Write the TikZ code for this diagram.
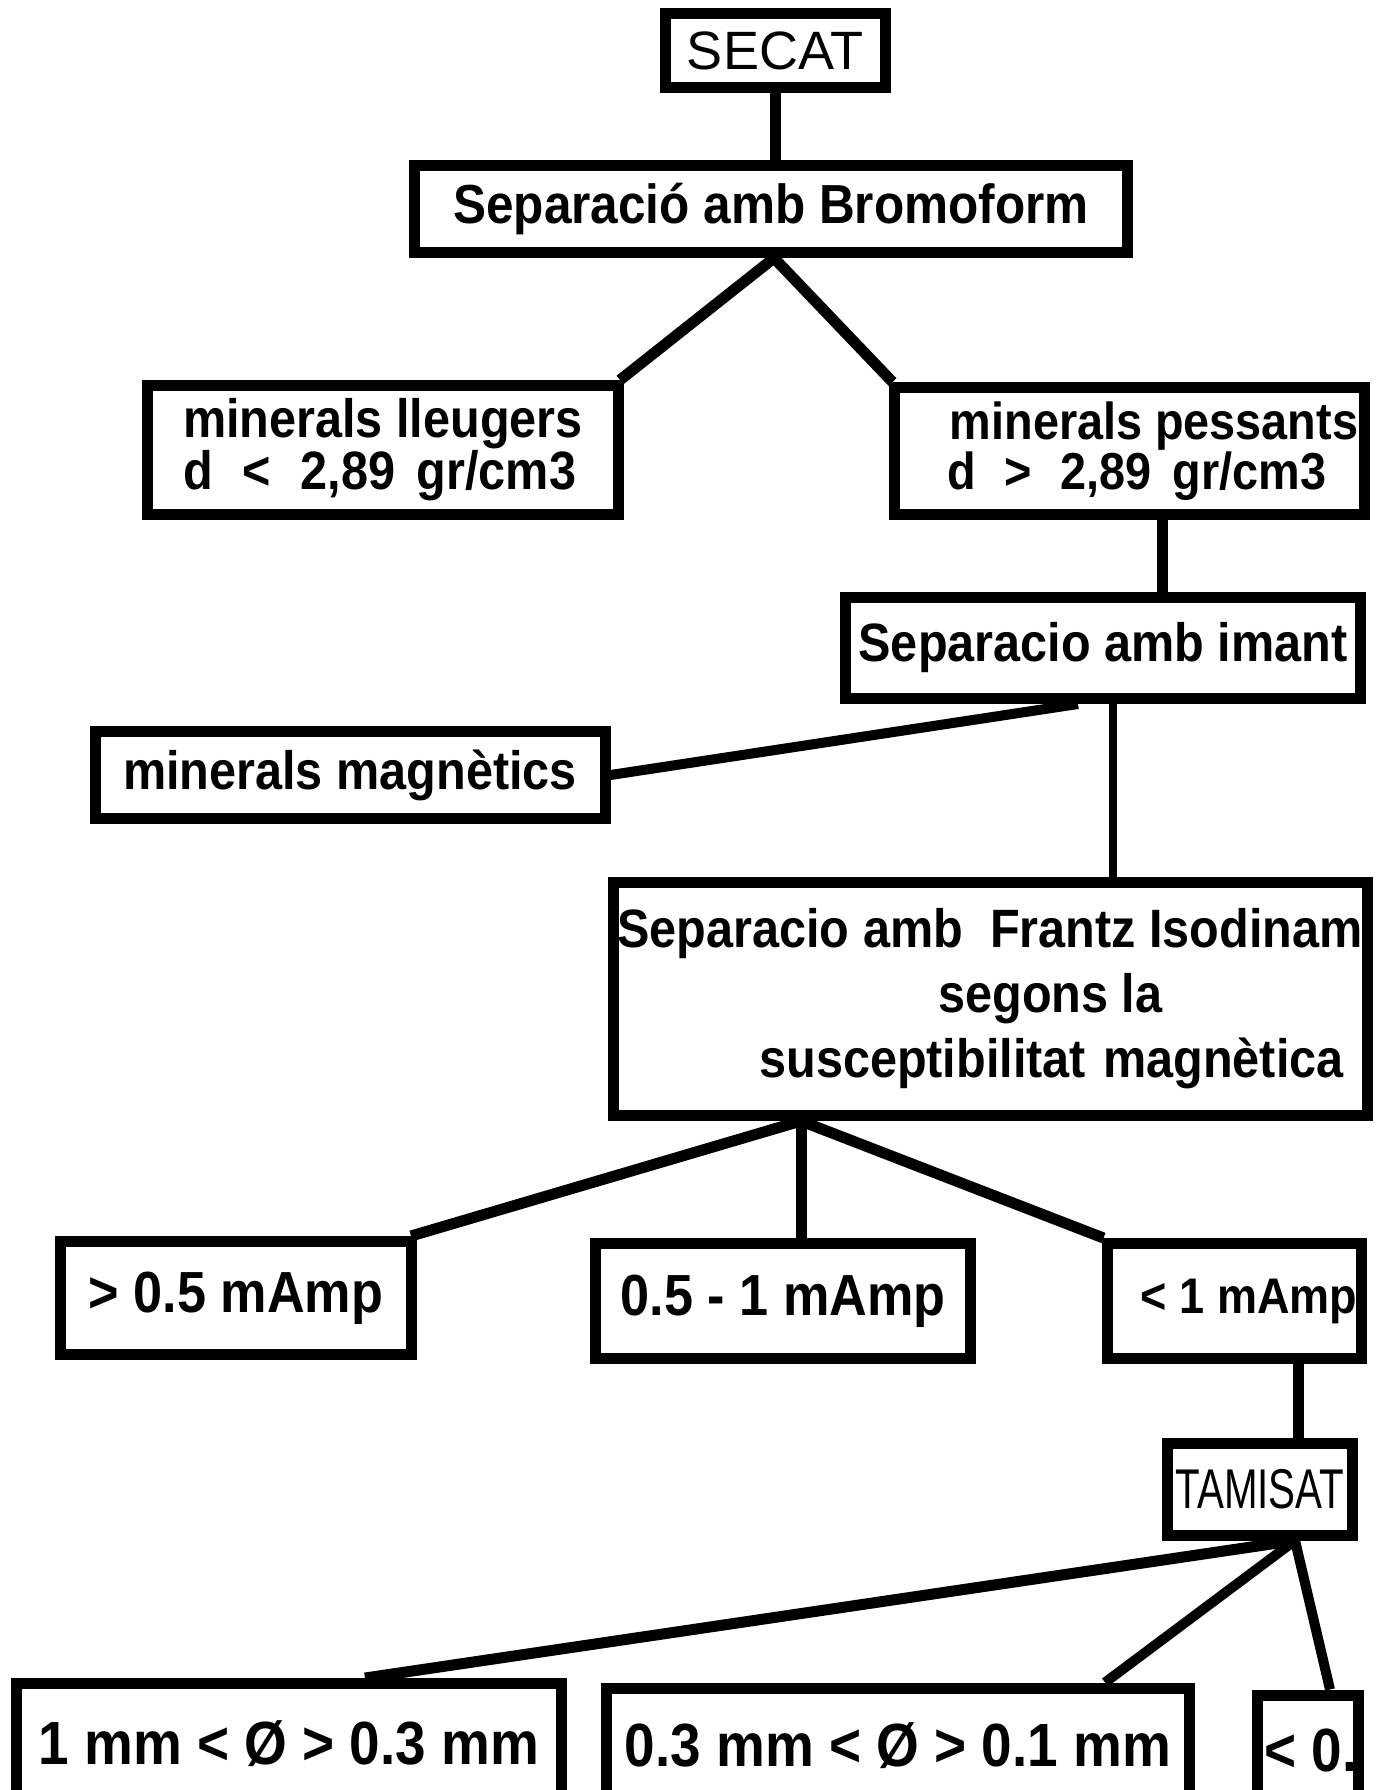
\documentclass[tikz,border=0pt]{standalone}
\usepackage{fontspec}
\newfontfamily\bfnt{Liberation Sans}[FakeStretch=0.9]
\newfontfamily\rgnt{Liberation Sans}
\newfontfamily\cdnt{Liberation Sans}[FakeStretch=0.72]
\begin{document}
\begin{tikzpicture}[x=1pt,y=-1pt,
  box/.style={draw, line width=11pt, rectangle, fill=white, inner sep=0pt,
    font=\bfnt\bfseries\fontsize{54pt}{52pt}\selectfont},
  conn/.style={line width=11pt},
  midconn/.style={line width=10pt},
  thinconn/.style={line width=8pt}]
\useasboundingbox (0,0) rectangle (1389,1790);
\clip (0,0) rectangle (1389,1790);
% nodes
\node[box, minimum width=220pt, minimum height=74pt, font=\rgnt\fontsize{54pt}{54pt}\selectfont] (secat) at (775,51) {SECAT};
\node[box, minimum width=713pt, minimum height=87pt, font=\bfnt\bfseries\fontsize{55pt}{55pt}\selectfont] (brom) at (771,209) {Separació amb Bromoform};
\node[box, minimum width=471pt, minimum height=129pt, align=left] (lleu) at (383,450)
  {minerals lleugers\\d\hspace{0.55em}<\hspace{0.55em}2,89\hspace{0.4em}gr/cm3};
\node[box, minimum width=470pt, minimum height=127pt, align=left,
  font=\bfnt\bfseries\fontsize{52pt}{50pt}\selectfont] (pess) at (1129,451)
  {\hspace*{50pt}minerals pessants\\\hspace*{48pt}d\hspace{0.55em}>\hspace{0.55em}2,89\hspace{0.4em}gr/cm3};
\node[box, minimum width=515pt, minimum height=101pt] (iman) at (1103,648) {Separacio amb imant};
\node[box, minimum width=510pt, minimum height=87pt] (magn) at (350,775) {minerals magnètics};
\node[box, minimum width=754pt, minimum height=233pt, align=left,
  font=\bfnt\bfseries\fontsize{54pt}{65pt}\selectfont] (fran) at (990,999)
  {Separacio amb\ \ Frantz Isodinam\\\hspace*{321pt}segons la\\\hspace*{142pt}susceptibilitat\hspace{0.32em}magnètica};
\node[box, minimum width=351pt, minimum height=113pt, font=\bfnt\bfseries\fontsize{58pt}{58pt}\selectfont] (a1) at (236,1298) {> 0.5 mAmp};
\node[box, minimum width=375pt, minimum height=115pt, font=\bfnt\bfseries\fontsize{58pt}{58pt}\selectfont] (a2) at (783,1301) {0.5 - 1 mAmp};
\node[box, minimum width=254pt, minimum height=115pt, font=\bfnt\bfseries\fontsize{50pt}{50pt}\selectfont] (a3) at (1234,1301) {\hspace*{30pt}< 1 mAmp};
\node[box, minimum width=185pt, minimum height=92pt, font=\cdnt\fontsize{56pt}{56pt}\selectfont] (tami) at (1260,1489) {TAMISAT};
\node[box, minimum width=545pt, minimum height=121pt, font=\bfnt\bfseries\fontsize{61pt}{61pt}\selectfont] (b1) at (289,1744) {1 mm < Ø > 0.3 mm};
\node[box, minimum width=583pt, minimum height=116pt, font=\bfnt\bfseries\fontsize{61pt}{61pt}\selectfont] (b2) at (898,1746) {0.3 mm < Ø > 0.1 mm};
\node[box, minimum width=101pt, minimum height=110pt, font=\bfnt\bfseries\fontsize{61pt}{61pt}\selectfont] (b3) at (1308,1750) {\hspace*{6pt}< 0.};
% connectors
\draw[conn] (secat.south) -- (secat.south |- brom.north);
\draw[conn] ([xshift=3pt]brom.south) -- ([xshift=-4pt]lleu.north east);
\draw[conn] ([xshift=3pt]brom.south) -- ([xshift=4pt]pess.north west);
\draw[conn] ([xshift=33pt]pess.south) -- ([xshift=33pt]pess.south |- iman.north);
\draw[midconn] ([xshift=-25pt]iman.south) -- (magn.east);
\draw[thinconn] ([xshift=10pt]iman.south) -- ([xshift=10pt]iman.south |- fran.north);
\draw[conn] ([xshift=-189pt]fran.south) -- ([xshift=-6pt]a1.north east);
\draw[conn] ([xshift=-189pt]fran.south) -- ([xshift=-189pt]fran.south |- a2.north);
\draw[conn] ([xshift=-189pt]fran.south) -- ([xshift=2pt]a3.north west);
\draw[conn] ([xshift=64pt]a3.south) -- ([xshift=64pt]a3.south |- tami.north);
\draw[conn] ([xshift=35pt]tami.south) -- ([xshift=76pt]b1.north);
\draw[midconn] ([xshift=35pt]tami.south) -- ([xshift=207pt]b2.north);
\draw[midconn] ([xshift=35pt]tami.south) -- ([xshift=22pt]b3.north);
\end{tikzpicture}
\end{document}
